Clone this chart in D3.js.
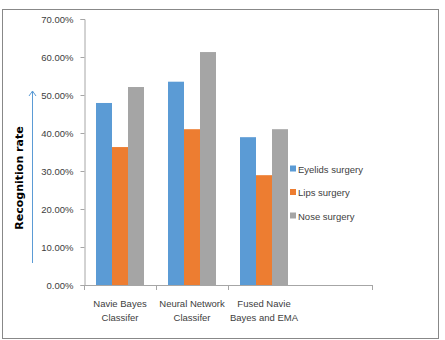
<!DOCTYPE html>
<html><head><meta charset="utf-8">
<script src="https://cdn.jsdelivr.net/npm/d3@7/dist/d3.min.js"></script>
<style>body{margin:0;background:#fff}svg{display:block}</style>
</head><body>
<svg id="c" width="445" height="340"></svg>
<script>
const categories = [["Navie Bayes","Classifer"],["Neural Network","Classifer"],["Fused Navie","Bayes and EMA"]];
const seriesNames = ["Eyelids surgery","Lips surgery","Nose surgery"];
const eyelids = [47.9, 53.5, 38.9];
const lips = [36.3, 41.0, 28.9];
const nose = [52.1, 61.3, 41.0];
const yTicks = [0,10,20,30,40,50,60,70];
const colors = ["#5b9bd5","#ed7d31","#a5a5a5"];

const series = [eyelids, lips, nose];
const svg = d3.select("#c");
const font = "'Liberation Sans Narrow','Arial Narrow',Arial,sans-serif";

svg.append("rect").attr("x",2.5).attr("y",9.5).attr("width",436).attr("height",329)
  .attr("fill","#fff").attr("stroke","#888").attr("stroke-width",1);

const x0 = 84, plotRight = 372;
const catIdx = d3.range(categories.length);
const x = d3.scaleBand().domain(catIdx).range([x0, x0 + 72*categories.length]).paddingInner(0).paddingOuter(0);
const xs = d3.scaleBand().domain(d3.range(series.length)).range([12, x.bandwidth()-12]);
const y = d3.scaleLinear().domain([0,70]).range([285,19]);

// y axis
const yAxis = d3.axisLeft(y).tickValues(yTicks).tickSize(4).tickFormat(d => d.toFixed(2) + "%");
const gy = svg.append("g").attr("transform",`translate(${x0+0.5},0)`).call(yAxis);
gy.select(".domain").attr("stroke","#a6a6a6");
gy.selectAll(".tick line").attr("stroke","#a6a6a6");
gy.selectAll(".tick text").attr("x",-11).attr("font-family",font).attr("font-size",9.5).attr("fill","#404040");

// bars
series.forEach((vals, s) => {
  svg.append("g").selectAll("rect").data(vals).join("rect")
    .attr("x",(d,i)=>x(i)+xs(s))
    .attr("width",xs.bandwidth())
    .attr("y",d=>y(d))
    .attr("height",d=>y(0)-y(d))
    .attr("fill",colors[s]);
});

// x axis
const gx = svg.append("g");
gx.append("line").attr("x1",x0).attr("x2",plotRight).attr("y1",y(0)+0.5).attr("y2",y(0)+0.5).attr("stroke","#a6a6a6");
const tickXs = catIdx.map(i=>x(i)).concat([plotRight]);
gx.selectAll("line.t").data(tickXs).join("line").attr("class","t")
  .attr("x1",d=>Math.round(d)+0.5).attr("x2",d=>Math.round(d)+0.5)
  .attr("y1",y(0)).attr("y2",y(0)+5).attr("stroke","#a6a6a6");
categories.forEach((lines,i)=>{
  const t = svg.append("text").attr("text-anchor","middle").attr("font-family",font)
    .attr("font-size",9.5).attr("fill","#404040");
  lines.forEach((l,k)=>t.append("tspan").attr("x",x(i)+x.bandwidth()/2).attr("y",307+k*14).text(l));
});

// y label & arrow
svg.append("text").attr("transform","translate(23,178) rotate(-90)").attr("text-anchor","middle")
  .attr("font-family","'DejaVu Sans',Verdana,sans-serif").attr("font-weight","bold").attr("font-size",11)
  .attr("fill","#000").text("Recognition rate");
svg.append("line").attr("x1",32.5).attr("x2",32.5).attr("y1",263).attr("y2",91).attr("stroke","#5b9bd5").attr("stroke-width",1);
svg.append("path").attr("d","M29,96 L32.5,91 L36,96").attr("fill","none").attr("stroke","#5b9bd5").attr("stroke-width",1);

// legend
const leg = svg.append("g");
seriesNames.forEach((n,i)=>{
  const yy = 169 + i*23.5;
  leg.append("rect").attr("x",290).attr("y",yy-3.5).attr("width",6).attr("height",6).attr("fill",colors[i]);
  leg.append("text").attr("x",298).attr("y",yy+3.5).attr("font-family",font).attr("font-size",9.5)
    .attr("fill","#404040").text(n);
});
</script>
</body></html>
